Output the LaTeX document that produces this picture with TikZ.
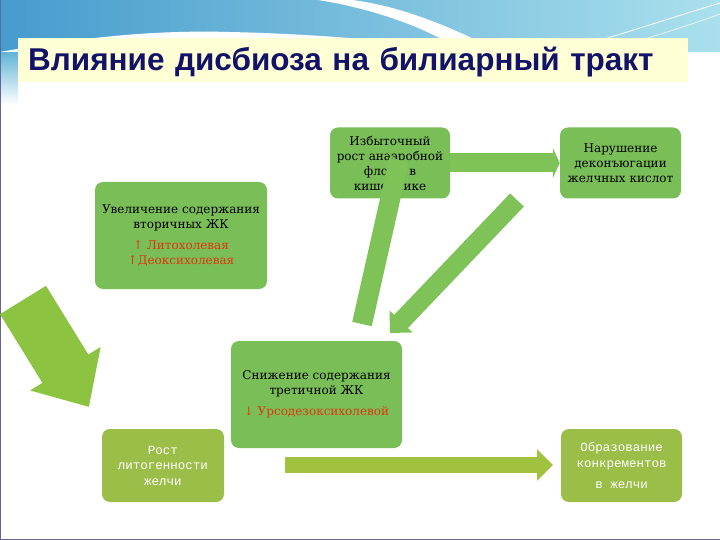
\documentclass[tikz,border=0pt]{standalone}
\usepackage{fontspec}
\setmainfont{DejaVu Serif}
\newfontfamily\ttlfont{Liberation Sans}
\newfontfamily\lfont{Liberation Mono}
\usepackage{tikz}
\usetikzlibrary{arrows.meta}
\definecolor{skya}{RGB}{70,155,205}
\definecolor{skyb}{RGB}{95,180,215}
\definecolor{skyc}{RGB}{170,224,236}
\definecolor{ttlbg}{RGB}{255,255,214}
\definecolor{ttlfg}{RGB}{18,18,105}
\definecolor{gbox}{RGB}{122,190,88}
\definecolor{obox}{RGB}{155,190,72}
\definecolor{garr}{RGB}{126,194,88}
\definecolor{barr}{RGB}{140,196,66}
\definecolor{oarr}{RGB}{160,194,62}
\definecolor{redt}{RGB}{222,55,15}
\tikzset{gn/.style={fill=gbox,rounded corners=8bp,minimum width=120bp,minimum
height=71bp,inner sep=0pt,align=center,text=black,font=\fontsize{12bp}{15bp}\selectfont},
ol/.style={fill=obox,rounded corners=8bp,minimum width=121bp,minimum
height=73bp,inner sep=0pt,align=center,text=white,font=\lfont\fontsize{12.5bp}{15.5bp}\selectfont}}

\begin{document}
\begin{tikzpicture}[x=1bp,y=-1bp,fat/.style={draw=garr,line width=19bp},
		lo/.style={text=redt}]
	\useasboundingbox (0,0) rectangle (720,540);
	\fill[white] (0,0) rectangle (720,540);
	\shade[left color=skya,middle color=skyb,right color=skyc] (0,0) rectangle (720,52);
	\shade[top color=skyb,bottom color=white] (0,52) rectangle (18,105);
	\fill[white] (0,52) .. controls (90,36) and (160,30) .. (230,32) .. controls (320,34) and (410,42) .. (470,52) -- cycle;
	\fill[white] (318,0) .. controls (370,8) and (430,28) .. (462,52) -- (500,52) .. controls (450,26) and (400,6) .. (352,0) -- cycle;
	\draw[white,line width=1bp,opacity=.8] (560,52) .. controls (620,35) and (680,15) .. (720,3);
	\draw[white,line width=.8bp,opacity=.7] (600,52) .. controls (650,38) and (690,25) .. (720,14);
	\draw[gray!80!blue,line width=1.2bp] (0.6,0) -- (0.6,539.4) -- (720,539.4);

	\node[fill=ttlbg,minimum height=44bp,text width=650bp,inner xsep=10bp,anchor=west,
		text height=26bp,text depth=5bp,text=ttlfg,font=\ttlfont\bfseries\fontsize{31.5bp}{34bp}\selectfont]
		(ttl) at (18,60.5) {Влияние дисбиоза на билиарный тракт};

	\node[gn] (flora) at (390,163) {Избыточный\\рост анаэробной\\флоры в\\кишечнике};
	\node[gn,minimum width=121bp] (dekon) at (620.5,163) {Нарушение\\деконъюгации\\желчных кислот};
	\node[gn,minimum width=172bp,minimum height=107bp] (vtor) at (181,235.5)
		{Увеличение содержания\\вторичных ЖК\\[6bp]\textcolor{redt}{↑ Литохолевая}\\\textcolor{redt}{↑Деоксихолевая}};
	\node[gn,minimum width=171bp,minimum height=107bp] (tret) at (316.5,394.5)
		{Снижение содержания\\третичной ЖК\\[6bp]\textcolor{redt}{↓ Урсодезоксихолевой}};
	\node[ol,minimum width=122bp] (lito) at (163,465.5) {Рост\\литогенности\\желчи};
	\node[ol] (konk) at (621.5,465.5) {Образование\\конкрементов\\[6bp]в желчи};

	\coordinate (fl1) at (399,160);
	\coordinate (fl2) at (362,324);
	\coordinate (dk1) at (517,200);
	\coordinate (dk2) at (390,333);
	\coordinate (vt1) at (23,300);
	\coordinate (vt2) at (89,407);
	\coordinate (lt1) at (285,465);
	\coordinate (lt2) at (553,465);

	\draw[fat,-{Triangle[length=7bp,width=30bp]}] (flora.east) -- (dekon.west);
	\draw[fat,line width=20bp] (fl1) -- (fl2);
	\draw[fat,-{Triangle[length=16bp,width=31bp]}] (dk1) -- (dk2);
	\draw[draw=barr,line width=54bp,-{Triangle[length=45bp,width=80bp]}] (vt1) -- (vt2);
	\draw[draw=oarr,line width=16bp,-{Triangle[length=16bp,width=31bp]}] (lt1) -- (lt2);
\end{tikzpicture}
\end{document}
